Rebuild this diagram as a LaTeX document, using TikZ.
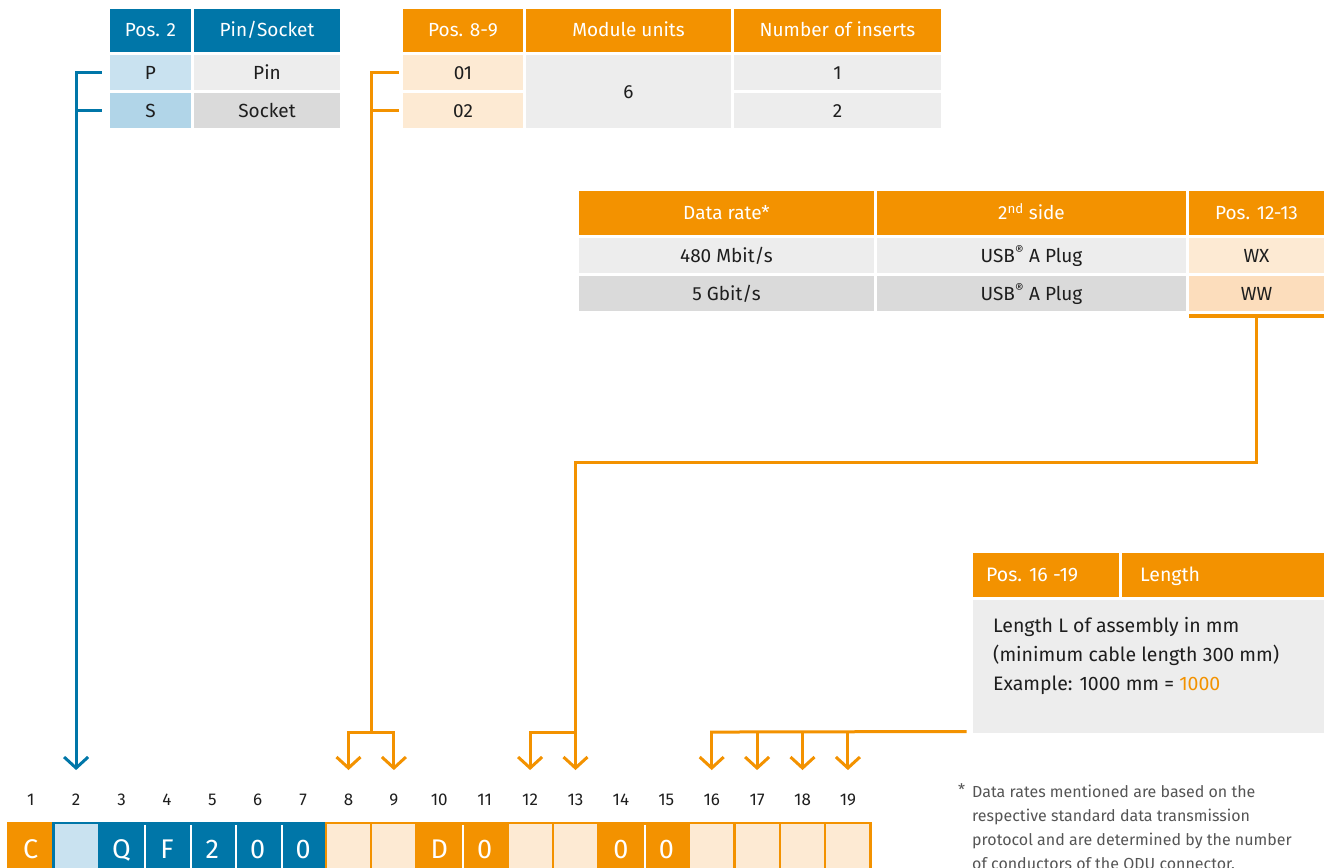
\documentclass[tikz,border=0pt]{standalone}
\usepackage{fontspec}
\setmainfont{Fira Sans}
\usetikzlibrary{arrows.meta,calc}
\definecolor{odublue}{RGB}{0,118,168}
\definecolor{oduorange}{RGB}{243,146,0}
\definecolor{lblueA}{RGB}{201,226,240}
\definecolor{lblueB}{RGB}{177,213,232}
\definecolor{lorA}{RGB}{253,234,211}
\definecolor{lorB}{RGB}{252,221,188}
\definecolor{grA}{RGB}{237,237,237}
\definecolor{grB}{RGB}{218,218,218}
\definecolor{txt}{RGB}{30,30,30}
\definecolor{fngray}{RGB}{85,85,85}
\newcommand\tc[7]{\node[tcell,#6,minimum width={(#4-#2)*1pt},minimum height={(#5-#3)*1pt}] (#1) at ({(#2+#4)/2},{(#3+#5)/2}) {#7};}
\begin{document}
\begin{tikzpicture}[x=1pt,y=-1pt,
  tcell/.style={rectangle,inner sep=0pt,outer sep=0pt,draw=none,font=\fontsize{19}{23}\selectfont,text=txt,text height=13pt,text depth=0pt},
  hb/.style={fill=odublue,text=white},
  ho/.style={fill=oduorange,text=white},
  lbl/.style={inner sep=0pt,font=\fontsize{19.5}{23}\selectfont,text=txt,text height=13pt,text depth=0pt},
  num/.style={inner sep=0pt,font=\fontsize{17}{20}\selectfont,text=txt,text height=11.5pt,text depth=0pt},
  fn/.style={inner sep=0pt,font=\fontsize{16}{19}\selectfont,text=fngray,anchor=base west},
  bcell/.style={rectangle,inner sep=0pt,minimum width=45.4pt,minimum height=52pt,line width=2.5pt,font=\fontsize{27}{30}\selectfont,text=white,text height=18.5pt,text depth=0pt},
  bline/.style={draw=odublue,line width=3pt,line cap=rect},
  oline/.style={draw=oduorange,line width=3pt,line cap=rect},
  arrowtip/.style={-{Straight Barb[length=11pt,width=24pt]}},
]
\useasboundingbox (0,0) rectangle (1324,867);
\clip (0,0) rectangle (1324,867);

% Table 1
\tc{h2a}{110}{9}{191}{52}{hb}{Pos. 2}
\tc{h2b}{194}{9}{340}{52}{hb}{Pin/Socket}
\tc{Pc}{110}{55}{191}{90}{fill=lblueA}{P}
\tc{Pin}{194}{55}{340}{90}{fill=grA}{Pin}
\tc{Sc}{110}{93}{191}{128}{fill=lblueB}{S}
\tc{Soc}{194}{93}{340}{128}{fill=grB}{Socket}

% Table 2
\tc{h8a}{403}{9}{523}{52}{ho}{Pos. 8-9}
\tc{h8b}{526}{9}{731}{52}{ho}{Module units}
\tc{h8c}{734}{9}{941}{52}{ho}{Number of inserts}
\tc{c01}{403}{55}{523}{90}{fill=lorA}{01}
\tc{c02}{403}{93}{523}{128}{fill=lorA}{02}
\tc{c6}{526}{55}{731}{128}{fill=grA}{6}
\tc{c1}{734}{55}{941}{90}{fill=grA}{1}
\tc{c2}{734}{93}{941}{128}{fill=grA}{2}

% Table 3
\tc{h3a}{579}{191}{874}{235}{ho}{Data rate*}
\tc{h3b}{877}{191}{1186}{235}{ho}{2\textsuperscript{nd} side}
\tc{h3c}{1189}{191}{1324}{235}{ho}{Pos. 12-13}
\tc{r1a}{579}{238}{874}{273}{fill=grA}{480 Mbit/s}
\tc{r1b}{877}{238}{1186}{273}{fill=grA}{USB\textsuperscript{®} A Plug}
\tc{r1c}{1189}{238}{1324}{273}{fill=lorA}{WX}
\tc{r2a}{579}{276}{874}{311}{fill=grB}{5 Gbit/s}
\tc{r2b}{877}{276}{1186}{311}{fill=grB}{USB\textsuperscript{®} A Plug}
\tc{r2c}{1189}{276}{1324}{311}{fill=lorB}{WW}
\tc{wwbar}{1189}{314}{1324}{318}{fill=oduorange,text height=0pt,font=\tiny}{}

% Table 4
\tc{h4a}{973}{553}{1119}{597}{ho}{}
\tc{h4b}{1122}{553}{1324}{597}{ho}{}
\node[lbl,anchor=west,text=white] (h4at) at ([xshift=13pt]h4a.west) {Pos. 16 -19};
\node[lbl,anchor=west,text=white] (h4bt) at ([xshift=18pt]h4b.west) {Length};
\tc{body}{973}{600}{1324}{733}{fill=grA}{}
\node[lbl,anchor=base west] (l1) at (993,632) {Length L of assembly in mm};
\node[lbl,anchor=base west] (l2) at (993,661) {(minimum cable length 300 mm)};
\node[lbl,anchor=base west] (l3) at (993,690) {Example: 1000 mm = \textcolor{oduorange}{1000}};

% position numbers
\foreach \i in {1,...,19}
  \node[num] (n\i) at ({30.7+45.4*(\i-1)},800) {\i};
\foreach \i in {2,8,9,12,13,16,17,18,19}
  \coordinate (t\i) at ([yshift=24pt]n\i.north);

% bottom code row
\foreach \i/\f/\d/\t in {1/oduorange/oduorange/C, 2/lblueA/odublue/{}, 3/odublue/odublue/Q,
  4/odublue/odublue/F, 5/odublue/odublue/2, 6/odublue/odublue/0, 7/odublue/odublue/0,
  8/lorA/oduorange/{}, 9/lorA/oduorange/{}, 10/oduorange/oduorange/D, 11/oduorange/oduorange/0,
  12/lorA/oduorange/{}, 13/lorA/oduorange/{}, 14/oduorange/oduorange/0, 15/oduorange/oduorange/0,
  16/lorA/oduorange/{}, 17/lorA/oduorange/{}, 18/lorA/oduorange/{}, 19/lorA/oduorange/{}}
  \node[bcell,fill=\f,draw=\d] (b\i) at ({30.7+45.4*(\i-1)},849) {\t};
\foreach \i in {3,4,5,6,10,14}
  \draw[white,line width=2pt] ([yshift=-3pt]b\i.north east) -- (b\i.south east);

% connectors
\draw[bline,arrowtip] ([xshift=-10pt]Pc.west) -| (t2);
\draw[bline] ([xshift=-10pt]Sc.west) -- (Sc.west -| t2);

\coordinate (j89) at ($(t8)!0.5!(t9)+(0,-38)$);
\draw[oline] ([xshift=-6pt]c01.west) -| (j89);
\draw[oline] ([xshift=-6pt]c02.west) -- (c02.west -| j89);
\draw[oline,arrowtip] (j89) -| (t8);
\draw[oline,arrowtip] (j89) -| (t9);

\coordinate (j13) at ([yshift=38pt]t13);
\draw[oline,arrowtip] (wwbar.south) -- ++(0,144) -| (t13);
\draw[oline,arrowtip] (j13) -| (t12);

\coordinate (j16) at ([yshift=38pt]t16);
\draw[oline] ([xshift=-8pt,yshift=1.5pt]body.south west) -- (j16);
\draw[oline,arrowtip] (j16) -- (t16);
\foreach \i in {17,18,19}
  \draw[oline,arrowtip] (t\i |- j16) -- (t\i);

% footnote
\node[fn] (fa) at (958,795) {*};
\node[fn] (f1) at (972,797) {Data rates mentioned are based on the};
\node[fn] (f2) at (972,821) {respective standard data transmission};
\node[fn] (f3) at (972,845) {protocol and are determined by the number};
\node[fn] (f4) at (972,869) {of conductors of the ODU connector.};
\end{tikzpicture}
\end{document}
